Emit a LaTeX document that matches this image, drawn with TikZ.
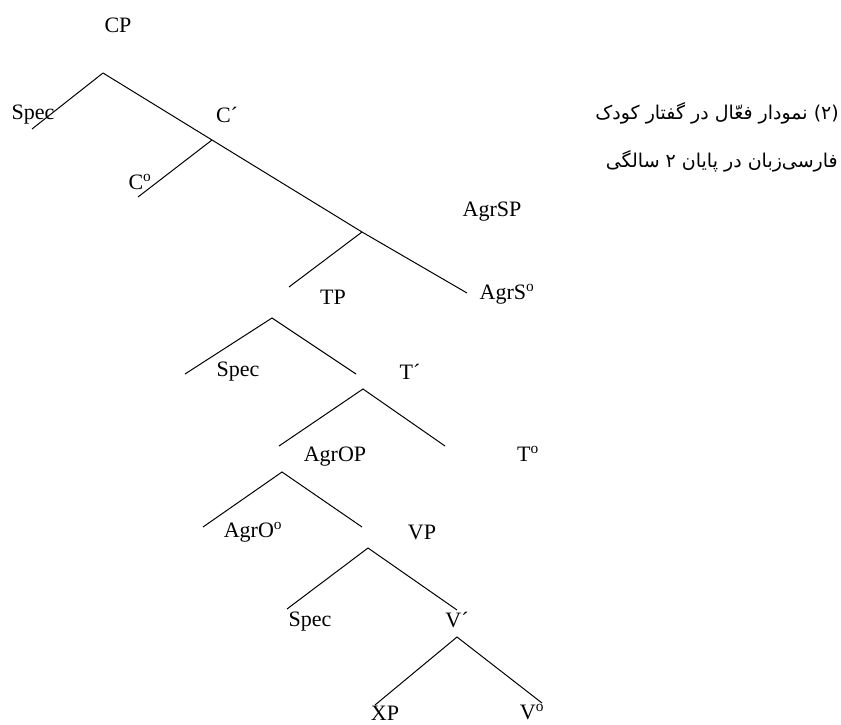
\documentclass[tikz,border=0pt]{standalone}
\usepackage{fontspec}
\setmainfont{Liberation Serif}
\newfontfamily\persianfont[Script=Arabic]{DejaVu Sans}
\TeXXeTstate=1
\usepackage{tikz}

\begin{document}
\begin{tikzpicture}[x=1pt,y=-1pt,
    cat/.style={font=\fontsize{22}{24}\selectfont, inner sep=0pt},
    caption/.style={anchor=east, inner sep=0pt, font=\persianfont\fontsize{19}{21}\selectfont},
    branch/.style={black, line width=1pt}]
  \useasboundingbox (0,0) rectangle (841,725);
  % upper spine: CP, C', AgrSP
  \coordinate (cp) at (103,73);
  \coordinate (cpspec) at (32,129);
  \coordinate (cbar) at (212,140);
  \coordinate (chead) at (138,197);
  \coordinate (agrsp) at (362,232);
  \coordinate (agrshead) at (467,293);
  \coordinate (tpend) at (289,287);
  \draw[branch] (cp) -- (cpspec);
  \draw[branch] (cp) -- (cbar) -- (agrsp) -- (agrshead);
  \draw[branch] (cbar) -- (chead);
  \draw[branch] (agrsp) -- (tpend);
  % the lower triangles
  \foreach \n/\a/\l/\r in {tp/{272,318}/{185,374}/{356,374},
                           tbar/{363,389}/{279,446}/{445,446},
                           agrop/{282,472}/{203,527}/{362,527},
                           vp/{368,548}/{287,609}/{457,610},
                           vbar/{457,637}/{375,705}/{542,703}} {
    \coordinate (\n) at (\a);
    \coordinate (\n-l) at (\l);
    \coordinate (\n-r) at (\r);
    \draw[branch] (\n-l) -- (\n) -- (\n-r);
  }
  % labels
  \node[cat] (lcp) at (118,25) {CP};
  \node[cat] (lspec1) at (33,115) {Spec};
  \node[cat] (lcbar) at (227,115) {C´};
  \node[cat] (lchead) at (140,182) {C\textsuperscript{o}};
  \node[cat] (lagrsp) at (492,212) {AgrSP};
  \node[cat] (ltp) at (333,297) {TP};
  \node[cat] (lagrshead) at (507,294) {AgrS\textsuperscript{o}};
  \node[cat] (lspec2) at (238,372) {Spec};
  \node[cat] (ltbar) at (410,372) {T´};
  \node[cat] (lagrop) at (335,457) {AgrOP};
  \node[cat] (lthead) at (528,454) {T\textsuperscript{o}};
  \node[cat] (lagrohead) at (253,532) {AgrO\textsuperscript{o}};
  \node[cat] (lvp) at (422,532) {VP};
  \node[cat] (lspec3) at (310,622) {Spec};
  \node[cat] (lvbar) at (457,620) {V´};
  \node[cat] (lxp) at (385,713) {XP};
  \node[cat] (lvhead) at (532,712) {V\textsuperscript{o}};
  % caption
  \node[caption] (cap1) at (839,113) {\beginR(۲) نمودار فعّال در گفتار کودک\endR};
  \node[caption] (cap2) at (838,161) {\beginR فارسی‌زبان در پایان ۲ سالگی\endR};
\end{tikzpicture}
\end{document}
